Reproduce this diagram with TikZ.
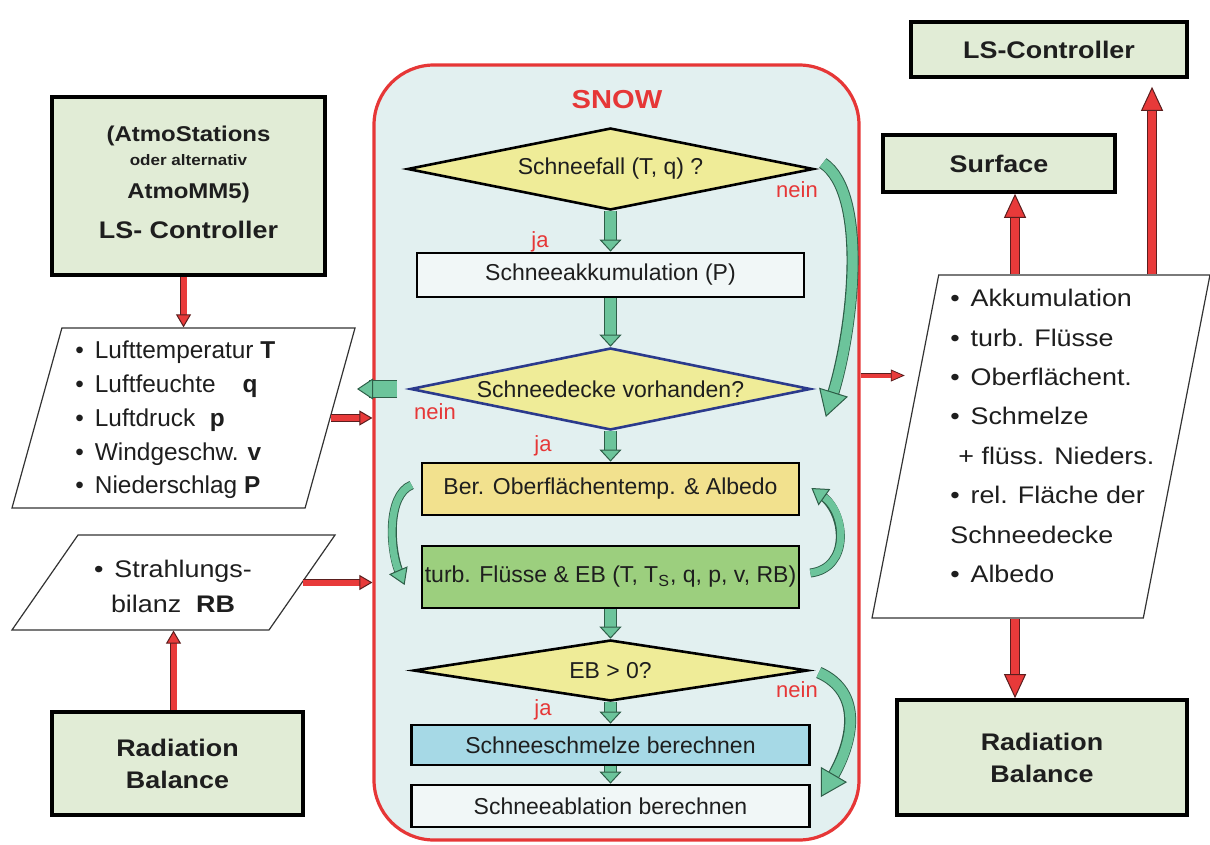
\documentclass[tikz,border=0pt]{standalone}
\usepackage{fontspec}
\setmainfont{Liberation Sans}
\newfontfamily\widesf[FakeStretch=1.12]{Liberation Sans}
\usetikzlibrary{shapes.geometric,arrows.meta,calc}

\definecolor{snowbg}{HTML}{E2F0F0}
\definecolor{snowred}{HTML}{E63737}
\definecolor{askyellow}{HTML}{EFEC98}
\definecolor{askblue}{HTML}{2B3A8C}
\definecolor{tempyellow}{HTML}{F2E18E}
\definecolor{fluxgreen}{HTML}{9CCF7E}
\definecolor{meltblue}{HTML}{A6D9E6}
\definecolor{plainbox}{HTML}{F1F7F7}
\definecolor{modgreen}{HTML}{E1ECD6}
\definecolor{flowgreen}{HTML}{6CC49B}
\definecolor{flowedge}{HTML}{2E5E48}
\definecolor{linkred}{HTML}{E83A3A}
\definecolor{rededge}{HTML}{5A1E1E}
\definecolor{txt}{HTML}{1E1E1E}

\newcommand{\bul}{\textbullet\hspace{0.45em}}

\tikzset{
  snowframe/.style={rectangle, rounded corners=30pt, draw=snowred, line width=1.6pt, fill=snowbg},
  module/.style={draw=black, line width=1.8pt, fill=modgreen, align=center, inner sep=0pt,
    font=\widesf\bfseries\fontsize{12}{16}\selectfont, text=txt},
  task/.style={draw=black, line width=1.4pt, inner sep=0pt, text=txt,
    font=\fontsize{11.5}{13}\selectfont},
  ask/.style={diamond, draw=black, line width=1.3pt, fill=askyellow, inner sep=0pt, text=txt,
    font=\fontsize{11.5}{13}\selectfont},
  % parallelogram: body width #1, height #2
  datasheet/.style 2 args={trapezium, draw=black!80, line width=0.6pt, fill=white,
    inner sep=0pt, text width=#1, text height=#2, text depth=0pt},
  answer/.style={text=snowred, font=\fontsize{11}{13}\selectfont},
  % green block arrows of the flow chart
  flow/.style={draw=flowgreen, line width=5.3pt,
    -{Triangle[width=11pt,length=6pt,fill=flowgreen,color=flowedge,line width=0.5pt]},
    preaction={draw=flowedge, line width=6.3pt, arrows=-, shorten >=5pt}},
  flowbend/.style={draw=flowgreen, line width=5pt,
    -{Triangle[width=15pt,length=13pt,fill=flowgreen,color=flowedge,line width=0.5pt]},
    preaction={draw=flowedge, line width=6pt, arrows=-, shorten >=11pt}},
  flowsmall/.style={draw=flowgreen, line width=3.6pt,
    -{Triangle[width=10pt,length=8pt,fill=flowgreen,color=flowedge,line width=0.5pt]},
    preaction={draw=flowedge, line width=4.5pt, arrows=-, shorten >=6pt}},
  flowstub/.style={draw=flowgreen, line width=8pt,
    -{Triangle[width=10.5pt,length=8pt,fill=flowgreen,color=flowedge,line width=0.5pt]},
    preaction={draw=flowedge, line width=9pt, arrows=-, shorten >=6pt}},
  % red data links
  redlink/.style={draw=linkred, line width=3pt,
    -{Triangle[width=7.5pt,length=6.5pt,fill=linkred,color=rededge,line width=0.5pt]},
    preaction={draw=rededge, line width=3.8pt, arrows=-, shorten >=5pt}},
  redbig/.style={draw=linkred, line width=4pt,
    -{Triangle[width=11pt,length=12pt,fill=linkred,color=rededge,line width=0.5pt]},
    preaction={draw=rededge, line width=4.8pt, arrows=-, shorten >=10pt}},
  redthin/.style={draw=linkred, line width=2pt,
    -{Triangle[width=6pt,length=7pt,fill=linkred,color=rededge,line width=0.4pt]},
    preaction={draw=rededge, line width=2.6pt, arrows=-, shorten >=5pt}},
}

\begin{document}
\begin{tikzpicture}[x=0.5pt,y=-0.5pt]
\useasboundingbox (0,0) rectangle (1210,845);

% SNOW module
\node[snowframe, minimum width=242.5pt, minimum height=387.5pt] (snow) at (616.5,452.5) {};
\node[text=snowred, font=\widesf\bfseries\fontsize{13}{15}\selectfont] (title) at (617,100) {SNOW};

\node[ask, aspect=5, minimum width=203pt, minimum height=41pt] (q1) at (610.5,169) {Schneefall (T, q) ?};
\node[task, fill=plainbox, minimum width=193.5pt, minimum height=22pt] (b1) at (610.5,275) {Schneeakkumulation (P)};
\node[ask, draw=askblue, aspect=4.9, minimum width=200pt, minimum height=41pt] (q2) at (610.5,389) {Schneedecke vorhanden?};
\node[task, fill=tempyellow, minimum width=188.5pt, minimum height=26pt] (b2) at (610.5,489) {Ber. Oberflächentemp. \& Albedo};
\node[task, fill=fluxgreen, minimum width=188.5pt, minimum height=31pt] (b3) at (610.5,577) {turb. Flüsse \& EB (T, T\textsubscript{S}, q, p, v, RB)};
\node[ask, aspect=6.5, minimum width=197pt, minimum height=30.5pt] (q3) at (610.5,670.5) {EB > 0?};
\node[task, fill=meltblue, minimum width=199pt, minimum height=20pt] (b4) at (610.5,745) {Schneeschmelze berechnen};
\node[task, fill=plainbox, minimum width=199pt, minimum height=21pt] (b5) at (610.5,806) {Schneeablation berechnen};

% ja / nein
\node[answer] (nein1) at (797,190) {nein};
\node[answer] (ja1) at (540,242) {ja};
\node[answer] (nein2) at (435,412) {nein};
\node[answer] (ja2) at (543,446) {ja};
\node[answer] (nein3) at (797,690) {nein};
\node[answer] (ja3) at (543,710) {ja};

% inputs (left)
\node[module, minimum width=136.5pt, minimum height=89pt] (atmo) at (188.5,186) {%
  \fontsize{10.7}{12}\selectfont (AtmoStations\\[-3.8pt]
  \fontsize{7.6}{12}\selectfont oder alternativ\\[0.3pt]
  \fontsize{10.7}{12}\selectfont AtmoMM5)\\[4.2pt]
  \fontsize{12}{12}\selectfont LS- Controller\\[-12pt]\mbox{}};
\node[datasheet={121.6pt}{90pt}, trapezium left angle=74.5, trapezium right angle=105.5] (p1) at (183.5,418) {};
\node[anchor=west, align=left, inner sep=0pt, text=txt, font=\fontsize{12.2}{16.9}\selectfont] (p1text) at (75,420) {%
  \bul Lufttemperatur \textbf{T}\\
  \bul Luftfeuchte\hspace{1.1em}\textbf{q}\\
  \bul Luftdruck\hspace{0.6em}\textbf{p}\\
  \bul Windgeschw. \textbf{v}\\
  \bul Niederschlag \textbf{P}};
\node[datasheet={95.5pt}{47.5pt}, trapezium left angle=55.2, trapezium right angle=124.8] (p2) at (173.5,582.5) {};
\node[align=center, inner sep=0pt, text=txt, font=\widesf\fontsize{12}{17.5}\selectfont] (p2text) at (173,586) {%
  \bul Strahlungs-\\bilanz\ \ \textbf{RB}};
\node[module, minimum width=125.5pt, minimum height=51.5pt] (radL) at (177.5,763.5) {Radiation\\Balance};

% outputs (right)
\node[module, minimum width=138pt, minimum height=27.5pt] (lsR) at (1049,49.5) {LS-Controller};
\node[module, minimum width=116pt, minimum height=28.5pt] (surf) at (999,163.5) {Surface};
\node[datasheet={102.3pt}{171.5pt}, trapezium left angle=79, trapezium right angle=101] (pR) at (1041,446.5) {};
\node[anchor=west, align=left, inner sep=0pt, text=txt, font=\widesf\fontsize{12}{19.7}\selectfont] (pRtext) at (950,436) {%
  \bul Akkumulation\\
  \bul turb. Flüsse\\
  \bul Oberflächent.\\
  \bul Schmelze\\
  \hspace{4pt}+ flüss. Nieders.\\
  \bul rel. Fläche der\\
  Schneedecke\\
  \bul Albedo};
\node[module, minimum width=145pt, minimum height=57.5pt] (radR) at (1042,757.5) {Radiation\\Balance};

% flow inside SNOW
\draw[flow] (q1) -- (b1);
\draw[flow] (b1) -- (q2);
\draw[flow] (q2) -- (b2);
\draw[flow] (b3) -- (q3);
\draw[flow] (q3) -- (b4);
\draw[flow] (b4) -- (b5);
\coordinate (exit) at (357,389);
\draw[flowstub] ($(q2.west)+(-12,0)$) -- (exit);
\draw[flowbend] ($(q1.east)+(8,-6)$) .. controls +(45,30) and +(28,-90) .. ($(q2.east)+(14,28)$);
\draw[flowbend] ($(q3.east)+(10,2)$) .. controls +(45,20) and +(32,-55) .. ($(b5.east)+(10,-9)$);
\draw[flowsmall] ($(b2.west)+(-9,-4)$) .. controls +(-25,10) and +(-15,-35) .. ($(b3.west)+(-16,8)$);
\draw[flowsmall] ($(b3.east)+(10,-4)$) .. controls +(40,-5) and +(35,25) .. ($(b2.east)+(11,-1)$);

% data links
\draw[redlink] (p1.north |- atmo.south) -- (p1.north);
\draw[redlink] (p1.east) -- (p1.east -| snow.west);
\draw[redlink] (p2.east) -- (p2.east -| snow.west);
\draw[redlink] (p2.south |- radL.north) -- (p2.south);
\coordinate (snowout) at ($(snow.east)+(0,-77)$);
\draw[redthin] (snowout) -- (snowout -| pR.west);
\coordinate (toSurf) at ($(pR.north)+(-26,0)$);
\coordinate (toLS) at ($(pR.north)+(111,0)$);
\coordinate (toRad) at ($(pR.south)+(-26,0)$);
\draw[redbig] (toSurf) -- (toSurf |- surf.south);
\draw[redbig, shorten >=4pt] (toLS) -- (toLS |- lsR.south);
\draw[redbig] (toRad) -- (toRad |- radR.north);
\end{tikzpicture}
\end{document}
